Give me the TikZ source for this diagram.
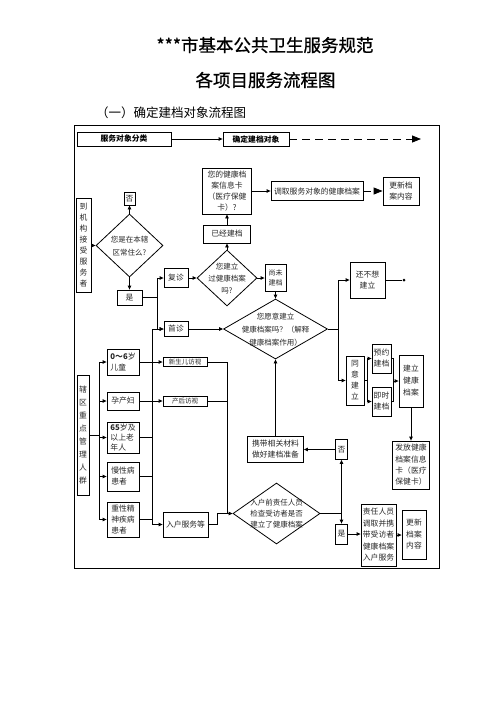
\documentclass[tikz,border=0pt]{standalone}
\usepackage{fontspec}
\setmainfont{Noto Sans CJK SC}
\newfontfamily\ttlfont[FakeBold=0.8]{Noto Sans CJK SC}
\usetikzlibrary{arrows.meta,shapes.geometric}
\newcommand{\dtxt}[1]{\smash{\makebox[0pt]{\raisebox{-2.5pt}{\begin{tabular}{@{}c@{}}#1\end{tabular}}}}}
\tikzset{
  bx/.style={draw, line width=0.8pt, inner sep=0.5pt, align=center, font=\fontsize{7.8}{11}\selectfont, text=black!85},
  lbx/.style={bx, align=left},
  hd/.style={draw, line width=0.8pt, inner sep=0.5pt, font=\fontsize{7.8}{9}\selectfont\bfseries},
  dm/.style={draw, diamond, line width=0.8pt, inner sep=0pt, font=\fontsize{7.5}{12}\selectfont, text=black!85},
  ln/.style={line width=0.8pt},
  arr/.style={line width=0.8pt, -{Triangle[length=4pt,width=3.5pt]}},
  darr/.style={line width=0.8pt, dash pattern=on 8pt off 5pt, -{Triangle[length=9pt,width=7pt]}},
}
\begin{document}
\begin{tikzpicture}[x=1pt,y=-1pt]
\useasboundingbox (0,0) rectangle (496,702);
% titles
\node[font=\ttlfont\fontsize{17.5}{20}\selectfont] (t1) at (265,45) {***市基本公共卫生服务规范};
\node[font=\ttlfont\fontsize{17.5}{20}\selectfont] (t2) at (265.5,80) {各项目服务流程图};
\node[font=\fontsize{12.5}{14}\selectfont, anchor=west, inner sep=0pt] (t3) at (96,113) {（一）确定建档对象流程图};
\node[draw, line width=1pt, minimum width=365pt, minimum height=443pt, inner sep=0pt] (frame) at (256.5,346.5) {};
% header
\node[hd, minimum width=94pt, minimum height=14pt] (h1) at (124,139) {服务对象分类};
\node[hd, minimum width=66pt, minimum height=14pt] (h2) at (256,139) {确定建档对象};
\coordinate (hend) at (421,139);
% upper part
\node[bx, minimum width=15pt, minimum height=94pt] (dj) at (83.5,245.5) {到\\机\\构\\接\\受\\服\\务\\者};
\node[dm, minimum width=67pt, minimum height=63pt, font=\fontsize{7.5}{13}\selectfont] (d1) at (129.5,245.5) {\dtxt{您是在本辖\\区常住么?}};
\node[bx, minimum width=11pt, minimum height=13pt] (no1) at (129.5,198.5) {否};
\node[bx, minimum width=25pt, minimum height=15pt] (yes1) at (129.5,297.5) {是};
\node[bx, minimum width=24pt, minimum height=19pt] (fz) at (176,278) {复诊};
\node[dm, minimum width=60pt, minimum height=56pt] (d2) at (227,278) {\dtxt{您建立\\过健康档案\\吗?}};
\node[bx, minimum width=47pt, minimum height=18pt] (yj) at (227,234) {已经建档};
\node[bx, minimum width=49pt, minimum height=46pt] (card) at (227,191) {您的健康档\\案信息卡\\（医疗保健\\卡）?};
\node[bx, minimum width=92pt, minimum height=19pt] (dq) at (317,191) {调取服务对象的健康档案};
\node[bx, minimum width=36pt, minimum height=28pt] (gx1) at (401,191) {更新档\\案内容};
\node[bx, minimum width=21pt, minimum height=27pt, font=\fontsize{7}{10}\selectfont] (sw) at (275.5,278) {尚未\\建档};
\node[dm, minimum width=104pt, minimum height=60pt, font=\fontsize{7.5}{13}\selectfont] (d3) at (275.5,329) {\dtxt{您愿意建立\\健康档案吗？（解释\\健康档案作用）}};
\node[bx, minimum width=24pt, minimum height=15pt] (sz) at (176,329) {首诊};
\node[bx, minimum width=35pt, minimum height=36pt] (bxn) at (367.5,280) {还不想\\建立};
\node[circle, fill, inner sep=0pt, minimum size=3pt] (dot) at (404,280) {};
\node[bx, minimum width=18pt, minimum height=49pt] (ty) at (355,380.5) {同\\意\\建\\立};
\node[bx, minimum width=19pt, minimum height=29pt] (yy) at (381.5,358.5) {预约\\建档};
\node[bx, minimum width=19pt, minimum height=29pt] (js) at (381.5,401.5) {即时\\建档};
\node[bx, minimum width=24pt, minimum height=52pt, font=\fontsize{7.8}{12}\selectfont] (jl) at (411,381) {建立\\健康\\档案};
\node[bx, minimum width=37pt, minimum height=48pt, font=\fontsize{7.8}{11.3}\selectfont] (ff) at (411,465) {发放健康\\档案信息\\卡（医疗\\保健卡）};
% lower part
\node[bx, minimum width=12pt, minimum height=120pt, font=\fontsize{7.8}{13}\selectfont] (xq) at (83,435) {辖\\区\\重\\点\\管\\理\\人\\群};
\node[lbx, minimum width=32pt, minimum height=26pt] (c06) at (123,362) {{\bfseries 0～6}岁\\儿童};
\node[lbx, minimum width=32pt, minimum height=18pt] (ycf) at (123,401) {孕产妇};
\node[lbx, minimum width=32pt, minimum height=31pt, inner sep=0pt, font=\fontsize{7.8}{10.3}\selectfont] (lnr) at (123,437.5) {{\bfseries 65}岁及\\以上老\\年人};
\node[lbx, minimum width=32pt, minimum height=29pt] (mxb) at (123,476.5) {慢性病\\患者};
\node[lbx, minimum width=32pt, minimum height=35pt] (zxj) at (123,519.5) {重性精\\神疾病\\患者};
\node[bx, minimum width=44pt, minimum height=9pt, inner sep=0pt, font=\fontsize{6.5}{7}\selectfont] (xse) at (185,362) {新生儿访视};
\node[bx, minimum width=44pt, minimum height=10pt, inner sep=0pt, font=\fontsize{6.5}{7}\selectfont] (chfs) at (185,401) {产后访视};
\node[bx, minimum width=45pt, minimum height=25pt] (rhfw) at (185.5,524.5) {入户服务等};
\node[dm, minimum width=87pt, minimum height=61pt, font=\fontsize{7.5}{11}\selectfont] (d4) at (276.5,513.5) {\dtxt{入户前责任人员\\检查受访者是否\\建立了健康档案}};
\node[bx, minimum width=12pt, minimum height=20pt] (no2) at (341.5,449.5) {否};
\node[bx, minimum width=56pt, minimum height=26pt] (xd) at (275.5,449.5) {携带相关材料\\做好建档准备};
\node[bx, minimum width=12pt, minimum height=20pt] (yes2) at (341.5,534) {是};
\node[lbx, minimum width=35pt, minimum height=62pt, font=\fontsize{7.8}{11.5}\selectfont] (zr) at (378.5,535) {责任人员\\调取并携\\带受访者\\健康档案\\入户服务};
\node[bx, minimum width=24pt, minimum height=49pt, font=\fontsize{7.8}{11.5}\selectfont] (gx2) at (414,534.5) {更新\\档案\\内容};
% coordinates
\coordinate (j1) at (157,297.5);
\coordinate (j2) at (338,329);
\coordinate (j3) at (367,380.5);
\coordinate (j4) at (393.5,381);
\coordinate (j5) at (99,435);
\coordinate (j6) at (152,362);
\coordinate (j7) at (227,513.5);
\coordinate (j8) at (217,524.5);
\coordinate (j9) at (341.5,513.5);
% connectors
\draw[arr] (h1) -- (h2);
\draw[darr] (h2) -- (hend);
\draw[arr] (dj.east) -- (d1.west);
\draw[arr] (d1.north) -- (no1.south);
\draw[arr] (d1.south) -- (yes1.north);
\draw[ln] (yes1.east) -- (j1);
\draw[arr] (j1) |- (fz.west);
\draw[arr] (j1) |- (sz.west);
\draw[arr] (fz.east) -- (d2.west);
\draw[arr] (d2.north) -- (yj.south);
\draw[arr] (yj.north) -- (card.south);
\draw[arr] (card.east) -- (dq.west);
\draw[darr] (dq.east) -- (gx1.west);
\draw[arr] (d2.east) -- (sw.west);
\draw[arr] (sw.south) -- (d3.north);
\draw[arr] (sz.east) -- (d3.west);
\draw[ln] (d3.east) -- (j2);
\draw[arr] (j2) |- (bxn.west);
\draw[arr] (j2) |- (ty.west);
\draw[ln] (bxn.east) -- (dot);
\draw[ln] (ty.east) -- (j3);
\draw[arr] (j3) |- (yy.west);
\draw[arr] (j3) |- (js.west);
\draw[ln] (yy.east) -| (j4);
\draw[ln] (js.east) -| (j4);
\draw[arr] (j4) -- (jl.west);
\draw[arr] (jl.south) -- (ff.north);
\draw[ln] (xq.east) -- (j5);
\draw[arr] (j5) |- (c06.west);
\draw[arr] (j5) |- (ycf.west);
\draw[arr] (j5) |- (lnr.west);
\draw[arr] (j5) |- (mxb.west);
\draw[arr] (j5) |- (zxj.west);
\draw[arr] (c06.east) -- (xse.west);
\draw[arr] (j6) |- (sz.west);
\draw[arr] (j6) |- (rhfw.west);
\draw[ln] (lnr.east) -- (lnr.east -| j6);
\draw[ln] (mxb.east) -- (mxb.east -| j6);
\draw[ln] (zxj.east) -- (zxj.east -| j6);
\draw[arr] (ycf.east) -- (chfs.west);
\draw[ln] (xse.east) -| (j7);
\draw[ln] (chfs.east) -- (chfs.east -| j7);
\draw[arr] (rhfw.east) -- (j8) |- (d4.west);
\draw[ln] (d4.east) -- (j9);
\draw[arr] (j9) -- (no2.south);
\draw[arr] (j9) -- (yes2.north);
\draw[arr] (no2.west) -- (xd.east);
\draw[arr] (xd.north) -- (d3.south);
\draw[arr] (yes2.east) -- (yes2.east -| zr.west);
\draw[arr] (zr.east) -- (zr.east -| gx2.west);
\end{tikzpicture}
\end{document}
